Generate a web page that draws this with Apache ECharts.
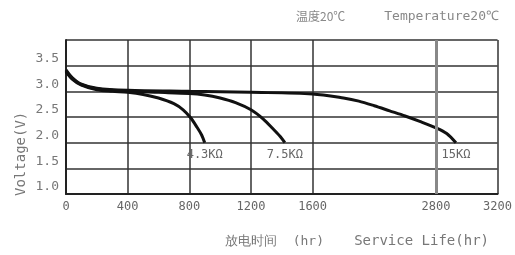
<!DOCTYPE html>
<html><head><meta charset="utf-8">
<script src="https://cdn.jsdelivr.net/npm/echarts@6/dist/echarts.min.js"></script>
<style>html,body{margin:0;padding:0;background:#fff}#c{width:515px;height:255px}</style>
</head><body><div id="c"></div>
<script>
// x positions are in the chart's own (evenly spaced) axis units; tick labels as printed
const xTickValues = [0, 400, 800, 1200, 1600, 2400, 2800];
const xTickLabels = ['0', '400', '800', '1200', '1600', '2800', '3200'];
const yMin = 1.0, yMax = 4.0, yStep = 0.5;
const seriesNames = ['4.3KΩ', '7.5KΩ', '15KΩ'];

const x43 = [0, 40, 100, 200, 300, 400, 500, 600, 700, 760, 810, 850, 880, 900];
const v43 = [3.38, 3.24, 3.12, 3.03, 3.00, 2.98, 2.94, 2.87, 2.76, 2.64, 2.48, 2.30, 2.15, 2.0];

const x75 = [0, 40, 100, 200, 400, 600, 800, 900, 1000, 1100, 1200, 1280, 1340, 1390, 1420];
const v75 = [3.40, 3.25, 3.13, 3.05, 3.00, 2.98, 2.96, 2.93, 2.87, 2.78, 2.64, 2.46, 2.28, 2.12, 2.0];

const x15 = [0, 40, 100, 200, 400, 800, 1200, 1600, 1800, 1900, 2000, 2100, 2200, 2300, 2400, 2470, 2530];
const v15 = [3.42, 3.27, 3.14, 3.06, 3.02, 3.00, 2.98, 2.95, 2.87, 2.81, 2.72, 2.62, 2.52, 2.41, 2.29, 2.18, 2.0];

const xs = [x43, x75, x15];
const vs = [v43, v75, v15];

const chart = echarts.init(document.getElementById('c'), null, {renderer: 'canvas'});
const mono = 'DejaVu Sans Mono';

const series = seriesNames.map((name, i) => ({
  name: name,
  type: 'line',
  data: xs[i].map((x, j) => [x, vs[i][j]]),
  smooth: 0.3,
  symbol: 'none',
  lineStyle: {color: '#111', width: 3},
  z: 3,
  markPoint: {
    symbol: 'circle', symbolSize: 0.01, silent: true,
    data: [{type: 'min', valueDim: 'y'}],
    itemStyle: {color: 'transparent'},
    label: {show: true, position: 'bottom', distance: 6, formatter: name,
            fontFamily: mono, fontSize: 12, color: '#666'}
  },
  markLine: i === 0 ? {
    silent: true, symbol: 'none', label: {show: false},
    lineStyle: {color: '#888', width: 3, type: 'solid'},
    data: [{xAxis: xTickValues[5]}]
  } : undefined
}));

chart.setOption({
  animation: false,
  backgroundColor: '#fff',
  grid: {left: 66, right: 16, top: 40, bottom: 61},
  xAxis: {
    type: 'value', min: 0, max: 2800, interval: 400,
    axisLine: {show: true, onZero: false, lineStyle: {color: '#222', width: 2}},
    axisTick: {show: false, customValues: xTickValues},
    axisLabel: {
      customValues: xTickValues, margin: 7,
      fontFamily: mono, fontSize: 12, color: '#666',
      formatter: v => xTickLabels[xTickValues.indexOf(v)]
    },
    splitLine: {show: true, lineStyle: {color: '#333', width: 1.5}}
  },
  yAxis: {
    type: 'value', min: yMin, max: yMax, interval: yStep,
    axisLine: {show: true, lineStyle: {color: '#222', width: 2}},
    axisTick: {show: false},
    axisLabel: {
      margin: 7, fontFamily: mono, fontSize: 13, color: '#777',
      verticalAlign: 'bottom', lineHeight: 14,
      formatter: v => v >= yMax ? '' : v.toFixed(1)
    },
    splitLine: {show: true, lineStyle: {color: '#333', width: 1.5}}
  },
  graphic: [
    {type: 'text', left: 296, top: 10,
     style: {text: '温度20℃', font: '12px "Noto Sans CJK SC"', fill: '#888'}},
    {type: 'text', right: 16, top: 10,
     style: {text: 'Temperature20℃', font: '13px "DejaVu Sans Mono"', fill: '#888'}},
    {type: 'text', left: 225, top: 235,
     style: {text: '放电时间  (hr)', font: '13px "DejaVu Sans Mono"', fill: '#777'}},
    {type: 'text', right: 26, top: 234,
     style: {text: 'Service Life(hr)', font: '14px "DejaVu Sans Mono"', fill: '#777'}},
    {type: 'text', x: 14, y: 196, rotation: Math.PI / 2,
     style: {text: 'Voltage(V)', font: '14px "DejaVu Sans Mono"', fill: '#777', align: 'left', verticalAlign: 'top'}}
  ],
  series: series
});
</script></body></html>
